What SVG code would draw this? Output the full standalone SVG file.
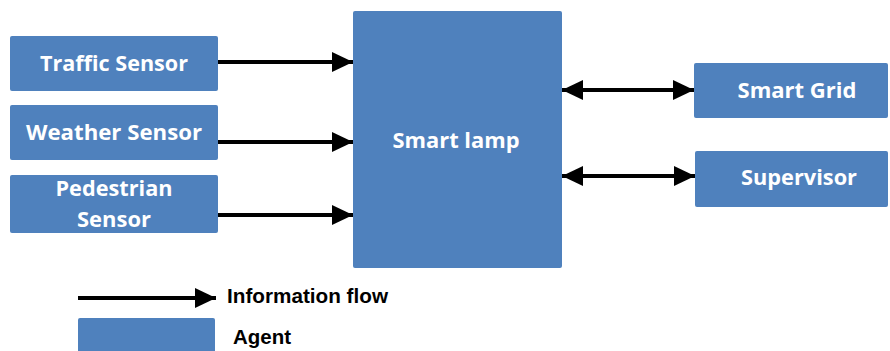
<svg xmlns="http://www.w3.org/2000/svg" width="890" height="351" viewBox="0 0 890 351">
<style>
.box{fill:#4F81BD;}
.lbl{fill:#ffffff;font-family:"Open Sans","Liberation Sans",sans-serif;font-weight:bold;font-size:21px;text-anchor:middle;}
.leg{fill:#000000;font-family:"Liberation Sans",Arial,sans-serif;font-weight:bold;font-size:21px;}
.conn{stroke:#000000;stroke-width:4;fill:none;}
</style>
<defs>
<marker id="ah" markerUnits="userSpaceOnUse" markerWidth="24" markerHeight="22" refX="21" refY="11" orient="auto-start-reverse">
<polygon points="0,1 21,11 0,21" fill="#000000"/>
</marker>
</defs>
<rect width="890" height="351" fill="#ffffff"/>
<g id="traffic"><rect class="box" x="10" y="36" width="208" height="55" rx="2"/><text class="lbl" x="114" y="71" textLength="148" lengthAdjust="spacingAndGlyphs">Traffic Sensor</text></g>
<g id="weather"><rect class="box" x="10" y="105" width="208" height="55" rx="2"/><text class="lbl" x="114" y="140" textLength="176" lengthAdjust="spacingAndGlyphs">Weather Sensor</text></g>
<g id="pedestrian"><rect class="box" x="10" y="175" width="208" height="58" rx="2"/><text class="lbl" x="114" y="196" textLength="117" lengthAdjust="spacingAndGlyphs">Pedestrian</text><text class="lbl" x="114" y="227" textLength="74" lengthAdjust="spacingAndGlyphs">Sensor</text></g>
<g id="lamp"><rect class="box" x="353" y="11" width="209" height="257" rx="2"/><text class="lbl" x="456" y="148" textLength="127" lengthAdjust="spacingAndGlyphs">Smart lamp</text></g>
<g id="grid"><rect class="box" x="694" y="63" width="194" height="55" rx="2"/><text class="lbl" x="797" y="98" textLength="119" lengthAdjust="spacingAndGlyphs">Smart Grid</text></g>
<g id="supervisor"><rect class="box" x="695" y="151" width="193" height="56" rx="2"/><text class="lbl" x="799" y="185" textLength="116" lengthAdjust="spacingAndGlyphs">Supervisor</text></g>
<g id="connectors">
<line class="conn" x1="218" y1="62" x2="353" y2="62" marker-end="url(#ah)"/>
<line class="conn" x1="218" y1="142" x2="353" y2="142" marker-end="url(#ah)"/>
<line class="conn" x1="218" y1="215" x2="353" y2="215" marker-end="url(#ah)"/>
<line class="conn" x1="562" y1="90" x2="694" y2="90" marker-start="url(#ah)" marker-end="url(#ah)"/>
<line class="conn" x1="562" y1="176" x2="695" y2="176" marker-start="url(#ah)" marker-end="url(#ah)"/>
</g>
<g id="legend">
<line class="conn" x1="78" y1="298" x2="216" y2="298" marker-end="url(#ah)"/>
<text class="leg" x="227" y="303" textLength="161" lengthAdjust="spacingAndGlyphs">Information flow</text>
<rect class="box" x="78" y="318" width="137" height="40" rx="2"/>
<text class="leg" x="233" y="344" textLength="58" lengthAdjust="spacingAndGlyphs">Agent</text>
</g>
</svg>
